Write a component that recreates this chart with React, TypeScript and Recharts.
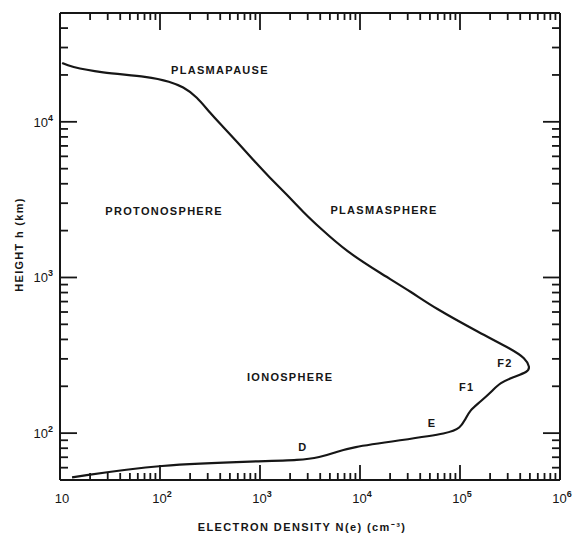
import React from 'react';
import { LineChart, Line, XAxis, YAxis, ReferenceDot, Label } from 'recharts';

// electron density profile, read along the curve from the top left down to the bottom left
const density = [
  10.5, 12.6, 25, 79, 126, 170, 234, 316, 427, 589, 851, 1259, 1862, 2690, 3980, 7410, 15850,
  33900, 53700, 158000, 339000, 447000, 501000, 479000, 339000, 251000, 214000, 158000, 126000,
  112000, 100000, 79400, 25100, 7940, 5620, 3980, 2510, 1000, 100, 13.2,
];
const height = [
  23900, 22600, 20700, 19500, 18100, 16800, 14500, 11400, 9290, 7440, 5700, 4360, 3400, 2640,
  2080, 1460, 1070, 794, 646, 440, 342, 303, 266, 247, 229, 210, 189, 158, 141, 121, 108, 100,
  90, 81, 75, 70, 67, 66, 63, 52,
];

const xDecades = [10, 100, 1000, 10000, 100000, 1000000];
const xDecadeExp = ['', '2', '3', '4', '5', '6'];
const yDecades = [100, 1000, 10000];
const yDecadeExp = ['2', '3', '4'];
const minorSteps = [2, 3, 4, 5, 6, 7, 8, 9];

const regionNames = ['PLASMAPAUSE', 'PROTONOSPHERE', 'PLASMASPHERE', 'IONOSPHERE', 'D', 'E', 'F1', 'F2'];
const regionDensity = [398, 110, 17400, 2000, 2690, 52500, 117000, 282000];
const regionHeight = [21600, 2680, 2700, 229, 81, 116, 198, 282];

const xDomain: [number, number] = [10, 1000000];
const yDomain: [number, number] = [50, 50000];

const buildTicks = (decades: number[], domain: [number, number]) => {
  const out: number[] = [];
  [decades[0] / 10, ...decades].forEach((d) => {
    [1, ...minorSteps].forEach((m) => {
      const v = Math.round(m * d * 1000) / 1000;
      if (v >= domain[0] && v <= domain[1] && !out.includes(v)) out.push(v);
    });
  });
  return out.sort((a, b) => a - b);
};

const xTicks = buildTicks(xDecades, xDomain);
const yTicks = buildTicks(yDecades, yDomain);

const data = density.map((n, i) => ({ n, h: height[i] }));

const INK = '#161616';
const FONT = '"Liberation Sans", Arial, sans-serif';
const MAJOR = 15;
const MINOR = 8;

const Power = ({ x, y, exp, anchor }: { x: number; y: number; exp: string; anchor: string }) => (
  <text x={x} y={y} textAnchor={anchor} fill={INK} fontFamily={FONT} fontSize={13}>
    <tspan>10</tspan>
    {exp && (
      <tspan dy={-6} fontSize={9} fontWeight="bold">
        {exp}
      </tspan>
    )}
  </text>
);

const BottomTick = (props: any) => {
  const { x, y, payload } = props;
  const i = xDecades.indexOf(payload.value);
  const len = i >= 0 ? MAJOR : MINOR - 1;
  return (
    <g>
      <line x1={x} y1={y} x2={x} y2={y - len} stroke={INK} strokeWidth={1.8} />
      {i >= 0 && <Power x={x + 2} y={y + 23} exp={xDecadeExp[i]} anchor="middle" />}
    </g>
  );
};

const TopTick = (props: any) => {
  const { x, y, payload } = props;
  const len = xDecades.includes(payload.value) ? MAJOR + 2 : MINOR - 1;
  return <line x1={x} y1={y} x2={x} y2={y + len} stroke={INK} strokeWidth={1.8} />;
};

const LeftTick = (props: any) => {
  const { x, y, payload } = props;
  const i = yDecades.indexOf(payload.value);
  const len = i >= 0 ? MAJOR + 2 : MINOR;
  return (
    <g>
      <line x1={x} y1={y} x2={x + len} y2={y} stroke={INK} strokeWidth={1.8} />
      {i >= 0 && <Power x={x - 7} y={y + 5} exp={yDecadeExp[i]} anchor="end" />}
    </g>
  );
};

const RightTick = (props: any) => {
  const { x, y, payload } = props;
  const len = yDecades.includes(payload.value) ? MAJOR + 2 : MINOR;
  return <line x1={x} y1={y} x2={x - len} y2={y} stroke={INK} strokeWidth={1.8} />;
};

const RegionText = (text: string) => (props: any) => (
  <text
    x={props.cx}
    y={props.cy}
    textAnchor="middle"
    dominantBaseline="central"
    fill={INK}
    fontFamily={FONT}
    fontWeight="bold"
    fontSize={11}
    letterSpacing={1.3}
  >
    {text}
  </text>
);

const App: React.FC = () => {
  return (
    <div style={{ position: 'absolute', left: 0, top: 0, width: 573, height: 539, background: '#fff' }}>
      <LineChart width={573} height={539} data={data} margin={{ top: 12, right: 12, bottom: 0, left: 0 }}>
        <XAxis
          xAxisId="b"
          dataKey="n"
          type="number"
          scale="log"
          domain={xDomain}
          allowDataOverflow
          ticks={xTicks}
          interval={0}
          height={59}
          tickSize={0}
          tickMargin={0}
          tickLine={false}
          axisLine={{ stroke: INK, strokeWidth: 2 }}
          tick={<BottomTick />}
        >
          <Label
            content={(p: any) => {
              const vb = p.viewBox || { x: 60, y: 480, width: 500 };
              return (
                <text
                  x={vb.x + vb.width / 2 - 8}
                  y={vb.y + 51}
                  textAnchor="middle"
                  fill={INK}
                  fontFamily={FONT}
                  fontWeight="bold"
                  fontSize={11}
                  letterSpacing={1.4}
                >
                  ELECTRON DENSITY N(e) (cm⁻³)
                </text>
              );
            }}
          />
        </XAxis>
        <XAxis
          xAxisId="t"
          dataKey="n"
          orientation="top"
          type="number"
          scale="log"
          domain={xDomain}
          allowDataOverflow
          ticks={xTicks}
          interval={0}
          height={1}
          tickSize={0}
          tickMargin={0}
          tickLine={false}
          axisLine={{ stroke: INK, strokeWidth: 2 }}
          tick={<TopTick />}
        />
        <YAxis
          yAxisId="l"
          dataKey="h"
          type="number"
          scale="log"
          domain={yDomain}
          allowDataOverflow
          ticks={yTicks}
          interval={0}
          width={60}
          tickSize={0}
          tickMargin={0}
          tickLine={false}
          axisLine={{ stroke: INK, strokeWidth: 2 }}
          tick={<LeftTick />}
        >
          <Label
            content={(p: any) => {
              const vb = p.viewBox || { y: 13, height: 467 };
              const cy = vb.y + vb.height / 2 - 2;
              return (
                <text
                  x={19}
                  y={cy}
                  transform={`rotate(-90 19 ${cy})`}
                  textAnchor="middle"
                  dominantBaseline="central"
                  fill={INK}
                  fontFamily={FONT}
                  fontWeight="bold"
                  fontSize={11}
                  letterSpacing={1.3}
                >
                  HEIGHT h (km)
                </text>
              );
            }}
          />
        </YAxis>
        <YAxis
          yAxisId="r"
          dataKey="h"
          orientation="right"
          type="number"
          scale="log"
          domain={yDomain}
          allowDataOverflow
          ticks={yTicks}
          interval={0}
          width={1}
          tickSize={0}
          tickMargin={0}
          tickLine={false}
          axisLine={{ stroke: INK, strokeWidth: 2 }}
          tick={<RightTick />}
        />
        <Line
          xAxisId="b"
          yAxisId="l"
          dataKey="h"
          type="basis"
          stroke={INK}
          strokeWidth={2.2}
          dot={false}
          activeDot={false}
          isAnimationActive={false}
        />
        <Line
          xAxisId="t"
          yAxisId="r"
          dataKey="h"
          stroke="none"
          dot={false}
          activeDot={false}
          isAnimationActive={false}
        />
        {regionNames.map((name, i) => (
          <ReferenceDot
            key={name}
            xAxisId="b"
            yAxisId="l"
            x={regionDensity[i]}
            y={regionHeight[i]}
            r={0}
            shape={RegionText(name)}
          />
        ))}
      </LineChart>
    </div>
  );
};

export default App;
